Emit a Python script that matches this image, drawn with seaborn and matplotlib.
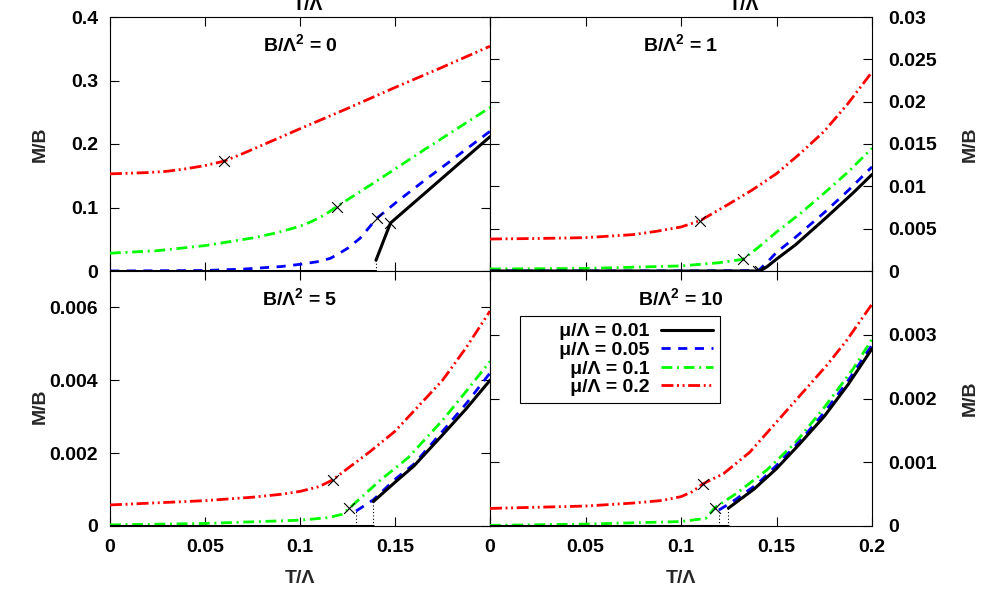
import matplotlib
matplotlib.use("Agg")
import matplotlib.pyplot as plt
import seaborn as sns
from matplotlib.ticker import FixedLocator, FuncFormatter

# ---------------- data ----------------
mu_labels = ["μ/Λ = 0.01", "μ/Λ = 0.05", "μ/Λ = 0.1", "μ/Λ = 0.2"]
panel_titles = ["B/Λ$^{2}$ = 0", "B/Λ$^{2}$ = 1", "B/Λ$^{2}$ = 5", "B/Λ$^{2}$ = 10"]

x_ticks = [0.0, 0.05, 0.1, 0.15, 0.2]
y_ticks_b0 = [0.0, 0.1, 0.2, 0.3, 0.4]
y_ticks_b1 = [0.0, 0.005, 0.01, 0.015, 0.02, 0.025, 0.03]
y_ticks_b5 = [0.0, 0.002, 0.004, 0.006]
y_ticks_b10 = [0.0, 0.001, 0.002, 0.003]
y_max = [0.4, 0.03, 0.007, 0.004]

# B/Λ^2 = 0
t0_k_off = [0.0, 0.1395]
m0_k_off = [0.0, 0.0]
t0_k_on = [0.140, 0.1476, 0.16, 0.18, 0.2]
m0_k_on = [0.017, 0.0755, 0.1077, 0.1596, 0.2115]
t0_b = [0.0, 0.05, 0.07, 0.09, 0.1, 0.11, 0.116, 0.12, 0.125, 0.1316, 0.1404, 0.151, 0.1658, 0.18, 0.2]
m0_b = [0.0, 0.0008, 0.003, 0.007, 0.0105, 0.015, 0.020, 0.0265, 0.0357, 0.0515, 0.083, 0.109, 0.1433, 0.175, 0.220]
t0_g = [0.0, 0.025, 0.05, 0.075, 0.0875, 0.1, 0.105, 0.11, 0.115, 0.1193, 0.14, 0.1649, 0.2]
m0_g = [0.028, 0.032, 0.040, 0.052, 0.060, 0.0705, 0.0765, 0.0835, 0.0925, 0.1013, 0.141, 0.190, 0.2575]
t0_r = [0.0, 0.02, 0.03, 0.04, 0.05, 0.06, 0.07, 0.08, 0.1, 0.125, 0.15, 0.175, 0.2]
m0_r = [0.153, 0.155, 0.157, 0.161, 0.166, 0.173, 0.185, 0.198, 0.224, 0.256, 0.289, 0.321, 0.354]
cross0_t = [0.1476, 0.1404, 0.1193, 0.0602]
cross0_m = [0.0755, 0.083, 0.1013, 0.173]
jump0_t = [0.1398]
jump0_m = [0.017]

# B/Λ^2 = 1
t1_k = [0.0, 0.1414, 0.145, 0.15, 0.16, 0.175, 0.19, 0.2]
m1_k = [0.0, 0.0, 0.0005, 0.0014, 0.0031, 0.0061, 0.0092, 0.0114]
t1_b = [0.0, 0.1, 0.13, 0.1405, 0.145, 0.15, 0.16, 0.175, 0.1875, 0.2]
m1_b = [0.0, 0.00001, 0.00003, 0.00005, 0.0010, 0.0022, 0.0040, 0.0069, 0.0095, 0.0123]
t1_g = [0.0, 0.05, 0.1, 0.12, 0.1323, 0.14, 0.15, 0.1625, 0.175, 0.1875, 0.2]
m1_g = [0.00024, 0.0003, 0.0006, 0.00098, 0.00138, 0.0027, 0.0046, 0.0068, 0.0092, 0.0117, 0.0145]
t1_r = [0.0, 0.025, 0.05, 0.075, 0.0875, 0.1, 0.110, 0.125, 0.1375, 0.15, 0.1625, 0.175, 0.1875, 0.2]
m1_r = [0.00378, 0.00384, 0.00394, 0.0043, 0.0047, 0.0052, 0.00594, 0.0079, 0.0096, 0.0115, 0.0139, 0.0165, 0.0198, 0.0235]
cross1_t = [0.1414, 0.1405, 0.1323, 0.110]
cross1_m = [0.0, 0.00004, 0.00138, 0.00594]

# B/Λ^2 = 5
t5_k_off = [0.0, 0.1386]
m5_k_off = [0.0, 0.0]
t5_k_on = [0.1386, 0.15, 0.16, 0.175, 0.1875, 0.2]
m5_k_on = [0.00067, 0.0012, 0.00165, 0.0025, 0.00322, 0.0040]
t5_b_off = [0.0, 0.1295]
m5_b_off = [0.0, 0.0]
t5_b_on = [0.1295, 0.1386, 0.15, 0.16, 0.175, 0.1875, 0.2]
m5_b_on = [0.00041, 0.00072, 0.00128, 0.0017, 0.0026, 0.00336, 0.0042]
t5_g = [0.0, 0.05, 0.1, 0.115, 0.122, 0.126, 0.1298, 0.1421, 0.157, 0.175, 0.1875, 0.2]
m5_g = [0.00003, 0.00007, 0.00016, 0.00023, 0.00032, 0.000487, 0.00067, 0.00125, 0.00188, 0.0029, 0.0037, 0.00452]
t5_r = [0.0, 0.05, 0.075, 0.09, 0.1, 0.11, 0.1172, 0.1228, 0.1368, 0.15, 0.1625, 0.175, 0.1875, 0.2]
m5_r = [0.000578, 0.000696, 0.00079, 0.00087, 0.00095, 0.00108, 0.001265, 0.00149, 0.00204, 0.0026, 0.0033, 0.0040, 0.0049, 0.0059]
cross5_t = [0.126, 0.1172]
cross5_m = [0.000487, 0.001265]
jump5_t = [0.1295, 0.1386]
jump5_m = [0.00041, 0.00067]

# B/Λ^2 = 10
t10_k_off = [0.0, 0.1248]
m10_k_off = [0.0, 0.0]
t10_k_on = [0.1248, 0.1383, 0.15, 0.1625, 0.175, 0.1875, 0.2]
m10_k_on = [0.00028, 0.00058, 0.00090, 0.00130, 0.00172, 0.00222, 0.00278]
t10_b_off = [0.0, 0.1198]
m10_b_off = [0.0, 0.0]
t10_b_on = [0.1198, 0.1248, 0.1283, 0.14, 0.15, 0.1625, 0.175, 0.1875, 0.2]
m10_b_on = [0.00025, 0.00034, 0.00041, 0.00066, 0.00095, 0.00134, 0.00178, 0.00228, 0.00284]
t10_g = [0.0, 0.05, 0.1, 0.113, 0.1178, 0.129, 0.145, 0.16, 0.175, 0.19, 0.2]
m10_g = [0.00001, 0.00003, 0.00007, 0.00012, 0.00029, 0.00051, 0.00088, 0.00131, 0.00186, 0.00246, 0.00293]
t10_r = [0.0, 0.05, 0.075, 0.09, 0.1, 0.106, 0.1114, 0.1222, 0.1361, 0.1553, 0.1763, 0.1867, 0.2]
m10_r = [0.000276, 0.000313, 0.00036, 0.00040, 0.00046, 0.00054, 0.00066, 0.00082, 0.00116, 0.00181, 0.00252, 0.00291, 0.00348]
cross10_t = [0.1178, 0.1114]
cross10_m = [0.00029, 0.00066]
jump10_t = [0.1198, 0.1248]
jump10_m = [0.00025, 0.00028]

# ---------------- style ----------------
sns.set_style("ticks")
FS = 14
plt.rcParams.update({
    "font.family": ["Liberation Sans", "DejaVu Sans"],
    "font.weight": "bold",
    "font.size": FS,
    "mathtext.fontset": "custom",
    "mathtext.rm": "Liberation Sans:bold",
    "mathtext.it": "Liberation Sans:bold",
    "mathtext.bf": "Liberation Sans:bold",
    "axes.edgecolor": "black",
    "axes.linewidth": 0.8,
    "text.color": "black",
    "xtick.color": "black",
    "ytick.color": "black",
})

colors = ["#000000", "#0000ff", "#00ff00", "#ff0000"]
lw = [2.2, 2.0, 2.0, 2.0]
styles = ["-", (0, (3.3, 2.7)), (0, (3.9, 1.7, 0.7, 1.7)), (0, (4.3, 1.3, 0.7, 1.3, 0.7, 1.3))]

fig = plt.figure(figsize=(9.91, 5.89), dpi=100)
W, H = 991.0, 589.0
def box(x0, y0, x1, y1):
    return [x0 / W, 1 - y1 / H, (x1 - x0) / W, (y1 - y0) / H]

ax0 = fig.add_axes(box(110, 17, 490, 271))
ax1 = fig.add_axes(box(490, 17, 872, 271))
ax5 = fig.add_axes(box(110, 271, 490, 526))
ax10 = fig.add_axes(box(490, 271, 872, 526))

panels = [
    (ax0, [[(t0_k_off, m0_k_off), (t0_k_on, m0_k_on)], [(t0_b, m0_b)], [(t0_g, m0_g)], [(t0_r, m0_r)]],
     cross0_t, cross0_m, jump0_t, jump0_m, y_ticks_b0),
    (ax1, [[(t1_k, m1_k)], [(t1_b, m1_b)], [(t1_g, m1_g)], [(t1_r, m1_r)]],
     cross1_t, cross1_m, [], [], y_ticks_b1),
    (ax5, [[(t5_k_off, m5_k_off), (t5_k_on, m5_k_on)], [(t5_b_off, m5_b_off), (t5_b_on, m5_b_on)],
           [(t5_g, m5_g)], [(t5_r, m5_r)]],
     cross5_t, cross5_m, jump5_t, jump5_m, y_ticks_b5),
    (ax10, [[(t10_k_off, m10_k_off), (t10_k_on, m10_k_on)], [(t10_b_off, m10_b_off), (t10_b_on, m10_b_on)],
            [(t10_g, m10_g)], [(t10_r, m10_r)]],
     cross10_t, cross10_m, jump10_t, jump10_m, y_ticks_b10),
]

fmt = FuncFormatter(lambda v, p: f"{v:g}")
for i, (ax, series, ct, cm, jt, jm, yt) in enumerate(panels):
    # draw in order red, green, blue, black so black is on top
    for k in [3, 2, 1, 0]:
        for s, (tt, mm) in enumerate(series[k]):
            sns.lineplot(x=tt, y=mm, ax=ax, color=colors[k], linewidth=lw[k],
                         linestyle=styles[k], estimator=None, sort=False,
                         label=mu_labels[k] if s == 0 else None, legend=False,
                         zorder=3 + (3 - k) * 0.1)
    if len(jt):
        ax.vlines(jt, 0, jm, colors="black", linestyles=(0, (1, 2)), linewidth=0.8, zorder=2)
    sns.scatterplot(x=ct, y=cm, ax=ax, marker="x", color="black", s=60, linewidth=0.8,
                    zorder=6, legend=False)

    ax.set_xlim(0, 0.2)
    ax.set_ylim(0, y_max[i])
    ax.xaxis.set_major_locator(FixedLocator(x_ticks))
    ax.yaxis.set_major_locator(FixedLocator(yt))
    ax.xaxis.set_major_formatter(fmt)
    ax.yaxis.set_major_formatter(fmt)
    ax.set_xlabel("")
    ax.set_ylabel("")
    for sp in ax.spines.values():
        sp.set_visible(True)
        sp.set_linewidth(0.8)
    left = i in (0, 2)
    top = i in (0, 1)
    ax.tick_params(which="both", direction="in", length=6.5, width=0.8,
                   top=True, bottom=True, left=True, right=True,
                   labelleft=left, labelright=not left,
                   labelbottom=not top, labeltop=False, labelsize=FS)
    ax.tick_params(axis="y", pad=8.6 if left else 11.5)
    ax.tick_params(axis="x", pad=9.5)
    ax.text(0.5, 0.865, panel_titles[i], transform=ax.transAxes, ha="center",
            va="baseline", fontsize=FS, fontweight="bold")
    if left:
        ax.set_ylabel("M/B", fontsize=FS, fontweight="bold")
        ax.yaxis.set_label_coords(-0.162, 0.5 if top else 0.47)
    else:
        ax.yaxis.set_label_position("right")
        ax.set_ylabel("M/B", fontsize=FS, fontweight="bold")
        ax.yaxis.set_label_coords(1.2346, 0.5)
    if top:
        ax.text(0.521 if left else 0.665, 1.0276, "T/Λ", transform=ax.transAxes,
                ha="center", va="baseline", fontsize=FS, fontweight="bold")
    else:
        ax.set_xlabel("T/Λ", fontsize=FS, fontweight="bold")
        ax.xaxis.set_label_coords(0.5, -0.172)
        if left:
            labels = [fmt(v, None) for v in x_ticks[:-1]] + [""]
            ax.set_xticks(x_ticks, labels)

# legend in bottom-right panel
handles = [h for h in ax10.get_lines() if h.get_label() in mu_labels]
handles = sorted(handles, key=lambda h: mu_labels.index(h.get_label()))
leg = ax10.legend(handles, ["      " + h.get_label() for h in handles],
                  loc="upper right", bbox_to_anchor=(0.602, 0.8235), borderaxespad=0,
                  markerfirst=False, frameon=True, fancybox=False, fontsize=FS,
                  handlelength=2.7, handletextpad=0.57, labelspacing=0.05,
                  borderpad=0.35)
leg.get_frame().set_edgecolor("black")
leg.get_frame().set_linewidth(0.8)
leg.get_frame().set_facecolor("white")
leg.get_frame().set_alpha(1)

fig.savefig("out.png", dpi=100)
